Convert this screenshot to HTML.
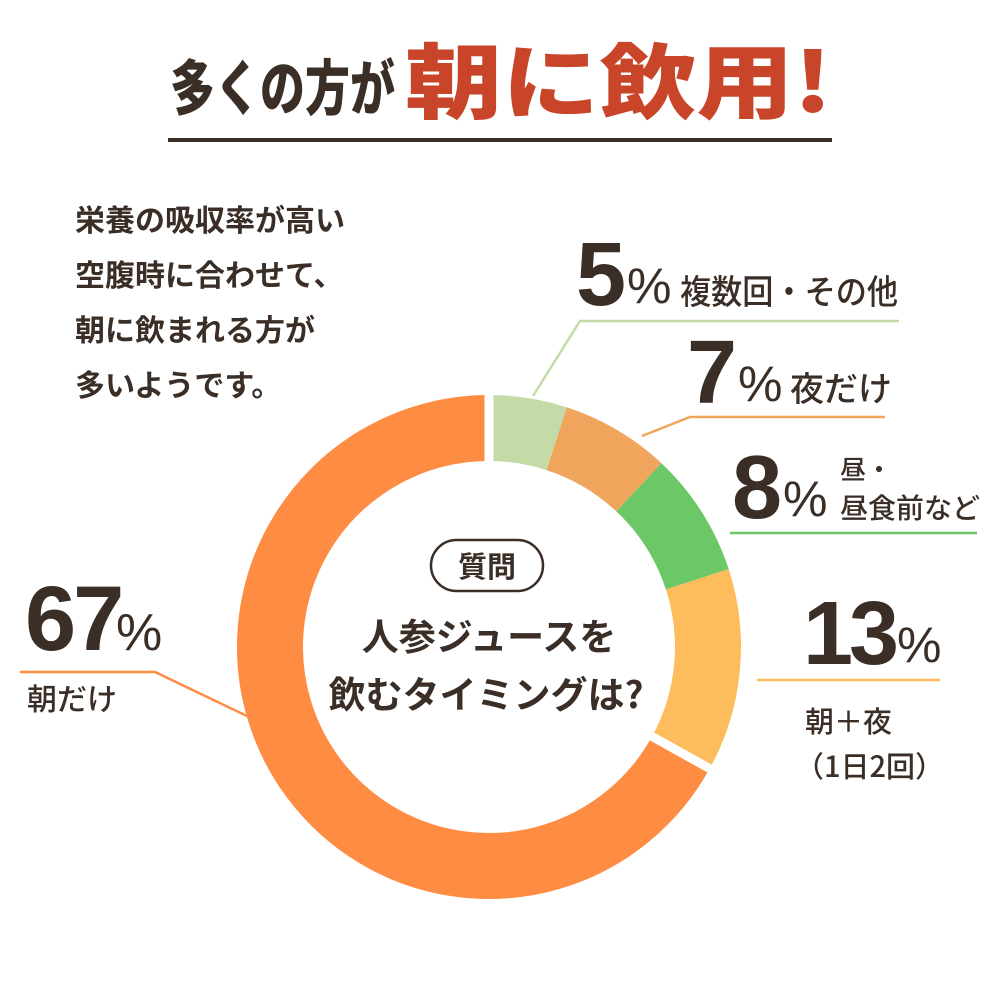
<!DOCTYPE html>
<html><head><meta charset="utf-8"><style>
html,body{margin:0;padding:0;background:#fff;}
svg{display:block;}
text{font-family:"Liberation Sans","Noto Sans CJK JP",sans-serif;fill:#3a2e26;}
.j{font-family:"Noto Sans CJK JP","Liberation Sans",sans-serif;}
</style></head><body>
<svg width="1000" height="1000" viewBox="0 0 1000 1000" xmlns="http://www.w3.org/2000/svg">
<rect width="1000" height="1000" fill="#fff"/>
<text class="j" x="170" y="110" font-size="60" font-weight="900" textLength="225" lengthAdjust="spacingAndGlyphs">多くの方が</text>
<text class="j" x="405" y="112" font-size="82" font-weight="900" style="fill:#c9452a" textLength="427" lengthAdjust="spacingAndGlyphs">朝に飲用!</text>
<rect x="168" y="138" width="664" height="4" fill="#3a2e26"/>
<g>
<text class="j" x="75" y="231" font-size="30" font-weight="700">栄養の吸収率が高い</text>
<text class="j" x="75" y="286" font-size="30" font-weight="700">空腹時に合わせて、</text>
<text class="j" x="75" y="341" font-size="30" font-weight="700">朝に飲まれる方が</text>
<text class="j" x="75" y="396" font-size="30" font-weight="700">多いようです。</text>
</g>
<g fill="none" stroke-width="66">
<circle cx="489" cy="647" r="219" stroke="#c4dba8" stroke-dasharray="68.8 1376" transform="rotate(-90 489 647)"/>
<circle cx="489" cy="647" r="219" stroke="#f0a55c" stroke-dasharray="96.3 1376" transform="rotate(-72 489 647)"/>
<circle cx="489" cy="647" r="219" stroke="#6cc766" stroke-dasharray="110.1 1376" transform="rotate(-46.8 489 647)"/>
<circle cx="489" cy="647" r="219" stroke="#fdbd5c" stroke-dasharray="178.9 1376" transform="rotate(-18 489 647)"/>
<circle cx="489" cy="647" r="219" stroke="#fe8c43" stroke-dasharray="921.9 1376" transform="rotate(28.8 489 647)"/>
</g>
<line x1="489" y1="470" x2="489" y2="380" stroke="#fff" stroke-width="9"/>
<line x1="644" y1="732" x2="723" y2="776" stroke="#fff" stroke-width="9"/>
<g fill="none" stroke-width="2.5">
<polyline points="533,396 580,321 899,321" stroke="#c4dba8"/>
<polyline points="642,436 690,417 885,417" stroke="#f0a55c"/>
<polyline points="730,533 977,533" stroke="#6cc766"/>
<polyline points="757,680 940,680" stroke="#fdbd5c"/>
<polyline points="20,672 155,672 247,716" stroke="#fe8c43"/>
</g>
<text x="576" y="305" font-size="90" font-weight="700">5</text>
<text x="627" y="303" font-size="50">%</text>
<text class="j" x="680" y="304" font-size="34" font-weight="500" textLength="218" lengthAdjust="spacingAndGlyphs">複数回・その他</text>

<text x="687" y="403" font-size="90" font-weight="700">7</text>
<text x="738" y="401" font-size="50">%</text>
<text class="j" x="790" y="401" font-size="34" font-weight="500">夜だけ</text>

<text x="732" y="518" font-size="90" font-weight="700">8</text>
<text x="783" y="516" font-size="50">%</text>
<text class="j" x="840" y="479" font-size="26" font-weight="500">昼・</text>
<text class="j" x="840" y="518" font-size="28" font-weight="500">昼食前など</text>

<text x="803" y="664" font-size="90" font-weight="700" letter-spacing="-4">13</text>
<text x="897" y="662" font-size="50">%</text>
<text class="j" x="805" y="732" font-size="29" font-weight="500">朝＋夜</text>
<text class="j" x="795" y="777" font-size="29" font-weight="500">（1日2回）</text>

<text x="25" y="650" font-size="92" font-weight="700" letter-spacing="-3">67</text>
<text x="116" y="650" font-size="52">%</text>
<text class="j" x="27" y="710" font-size="30" font-weight="500">朝だけ</text>

<rect x="431" y="540" width="112" height="51" rx="25.5" fill="none" stroke="#3a2e26" stroke-width="2.5"/>
<text class="j" x="487" y="577" font-size="29" font-weight="700" text-anchor="middle">質問</text>
<text class="j" x="489" y="650" font-size="37" font-weight="700" text-anchor="middle">人参ジュースを</text>
<text class="j" x="486" y="708" font-size="37" font-weight="700" text-anchor="middle">飲むタイミングは?</text>
</svg>
</body></html>
